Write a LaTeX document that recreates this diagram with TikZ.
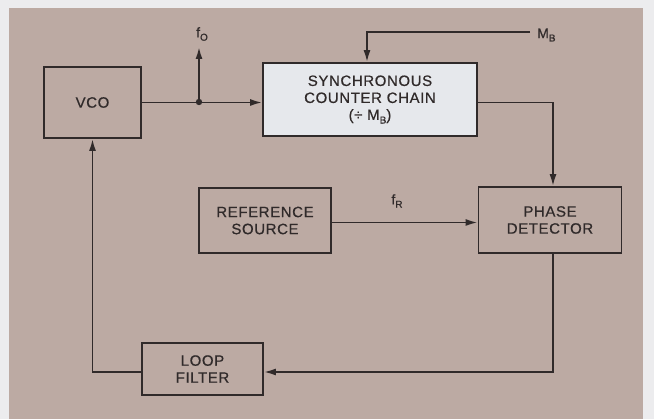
\documentclass[tikz,border=0pt]{standalone}
\usepackage{fontspec}
\setmainfont{Liberation Sans}
\newfontfamily\lab[LetterSpace=4,FakeBold=0.6]{Liberation Sans}
\usetikzlibrary{arrows.meta}
\definecolor{paper}{RGB}{236,236,238}
\definecolor{bgtan}{RGB}{188,170,163}
\definecolor{ink}{RGB}{48,42,42}
\definecolor{boxfill}{RGB}{230,232,236}
\newcommand{\subs}[1]{\raisebox{-0.45ex}{\fontsize{10}{10}\selectfont #1}}
\tikzset{
  blk/.style={draw=ink, line width=1.8pt, minimum width=#1, inner sep=0pt, align=center,
    font=\lab\fontsize{15}{17}\selectfont, text=ink},
  wire/.style={draw=ink, line width=1.8pt},
  arr/.style={wire, -{Latex[length=12pt,width=7pt]}},
  sig/.style={font=\lab\fontsize{14}{14}\selectfont, text=ink, inner sep=0pt}
}
\begin{document}
\begin{tikzpicture}[x=1pt,y=-1pt]
\useasboundingbox (0,0) rectangle (654,419);
\fill[paper] (0,0) rectangle (654,419);
\fill[bgtan] (9,8) rectangle (643,419);

\node[blk=97pt, minimum height=71pt] (vco) at (92.5,102.5) {VCO};
\node[blk=214pt, minimum height=73pt, fill=boxfill] (sync) at (370,99.5)
  {SYNCHRONOUS\\COUNTER CHAIN\\(÷ M\subs{B})};
\node[blk=132pt, minimum height=65pt] (ref) at (265,220.5) {REFERENCE\\SOURCE};
\node[blk=143pt, minimum height=66pt] (phase) at (550,220) {PHASE\\DETECTOR};
\node[blk=121pt, minimum height=52pt] (loop) at (202.5,369) {LOOP\\FILTER};

\coordinate (tap) at (199,102);
\coordinate (ftop) at (199,47);
\coordinate (mbend) at (530,32);

\draw[arr] (vco.east) -- (vco.east -| sync.west);
\fill[ink] (tap) circle (3.2pt);
\draw[arr] (tap) -- (ftop);
\node[sig] (f0) at (202,34) {f\subs{O}};

\draw[arr] (mbend) -| ([xshift=-3pt]sync.north);
\node[sig, anchor=west] (mb) at (537,35) {M\subs{B}};

\draw[arr] (sync.east |- vco.east) -| ([xshift=3pt]phase.north);
\draw[arr] ([yshift=-2pt]ref.east) -- ([yshift=-2pt]ref.east -| phase.west);
\node[sig] (fr) at (397,201) {f\subs{R}};

\draw[arr] ([xshift=3pt]phase.south) |- ([yshift=-3pt]loop.east);
\draw[arr] ([yshift=-3pt]loop.west) -| (vco.south);
\end{tikzpicture}
\end{document}
